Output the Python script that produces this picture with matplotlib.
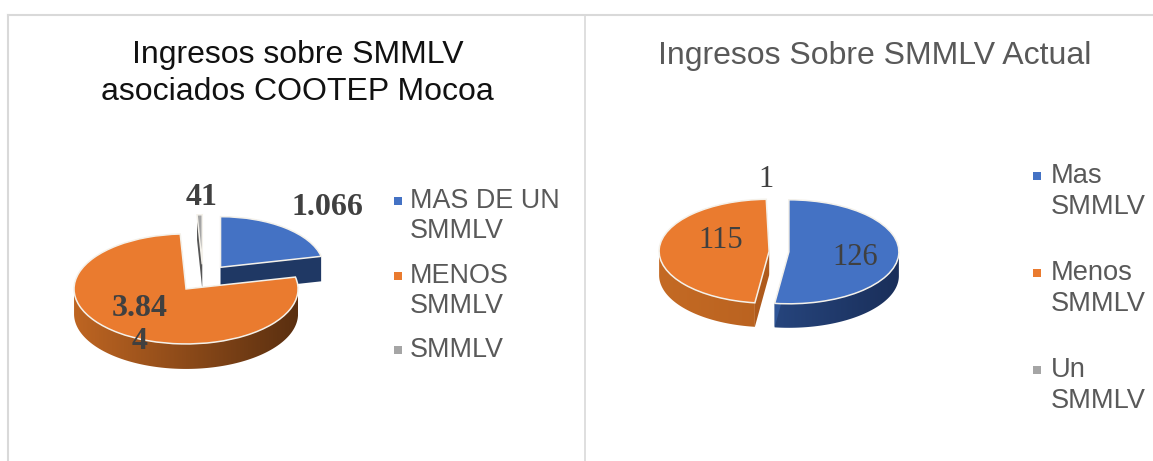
import matplotlib
matplotlib.use('Agg')
import matplotlib.pyplot as plt
import numpy as np
from matplotlib.colors import LinearSegmentedColormap
from matplotlib.patches import Polygon

W, H = 1153, 461

left_values = [1066, 3844, 41]
left_labels = ['1.066', '3.84\n4', '41']
left_legend = ['MAS DE UN\nSMMLV', 'MENOS\nSMMLV', 'SMMLV']
right_values = [126, 115, 1]
right_labels = ['126', '115', '1']
right_legend = ['Mas\nSMMLV', 'Menos\nSMMLV', 'Un\nSMMLV']

colors = ['#4472C4', '#EA7B2F', '#A5A5A5']
left_sides = [['#1F3864', '#1F3864'], ['#BE6522', '#5A2F10'], ['#555555', '#555555']]
right_sides = [['#2F5597', '#1A2F5A'], ['#C46A24', '#AE5A1C'], ['#FFFFFF', '#FFFFFF']]

fig = plt.figure(figsize=(W / 100, H / 100), dpi=100)
fig.patch.set_facecolor('white')


def draw_pie(cx, cy, rx, ry, depth, values, side_colors, explode, order, scales):
    # squashed axes turn the round pie into an ellipse
    ax = fig.add_axes([(cx - 1.5 * rx) / W, 1 - (cy + 1.8 * ry) / H, 3 * rx / W, 3.6 * ry / H])
    wedges, _ = ax.pie(values, colors=colors, startangle=90, counterclock=False,
                       explode=[explode] * len(values),
                       wedgeprops={'edgecolor': '#F4F1EA', 'linewidth': 1.1})
    ax.set_aspect('auto')
    d = depth / ry
    for z, i in enumerate(order):
        w = wedges[i]
        w.set_zorder(3 * z + 3)
        # back slices look smaller in the perspective of the original
        w.set_radius(w.r * scales[i])
        x0, y0 = w.center
        t = np.radians(np.linspace(w.theta1, w.theta2, 200))
        px = x0 + w.r * np.cos(t)
        py = y0 + w.r * np.sin(t)
        cmap = LinearSegmentedColormap.from_list('s', side_colors[i])
        grad = np.linspace(0, 1, 256).reshape(1, -1)
        low = np.sin(t) <= 0
        if low.any():
            # outer wall, shaded left to right
            poly = np.vstack([np.c_[px[low], py[low]], np.c_[px[low][::-1], py[low][::-1] - d]])
            clip = Polygon(poly, transform=ax.transData, fc='none', ec='none')
            ax.add_patch(clip)
            im = ax.imshow(grad, extent=[x0 - 1, x0 + 1, y0 - 1 - d, y0 + 1], cmap=cmap,
                           aspect='auto', zorder=3 * z + 1)
            im.set_clip_path(clip)
        # cut faces
        for k, px1, py1 in [(0, px[0], py[0]), (1, px[-1], py[-1])]:
            face = [(x0, y0), (px1, py1), (px1, py1 - d), (x0, y0 - d)]
            ax.add_patch(Polygon(face, fc=side_colors[i][k], ec='none', zorder=3 * z + 2))
    ax.set_xlim(-1.5, 1.5)
    ax.set_ylim(-1.8, 1.8)
    ax.axis('off')
    ax.patch.set_alpha(0)
    return wedges


draw_pie(203, 278, 112, 55, 25, left_values, left_sides, 0.25, [2, 0, 1], [0.92, 1, 0.9])
right_wedges = draw_pie(779, 251.5, 110, 52, 24, right_values, right_sides, 0.09, [2, 1, 0], [1, 1, 1])
# the single-person slice is lost in the gap in the original
right_wedges[2].set_facecolor('white')
right_wedges[2].set_edgecolor('white')
right_wedges[2].set_linewidth(2.5)

# overlay in pixel coordinates for frame, titles, labels and legends
top = fig.add_axes([0, 0, 1, 1], zorder=10)
top.set_xlim(0, W)
top.set_ylim(H, 0)
top.axis('off')
top.patch.set_alpha(0)

frame = '#D9D9D9'
top.plot([8, 8], [H, 15], color=frame, lw=1.5)
top.plot([8, W], [15, 15], color=frame, lw=1.5)
top.plot([584.5, 584.5], [15, H], color=frame, lw=1.2)

sans = 'Liberation Sans'
serif = 'Liberation Serif'
top.text(297.5, 55, 'Ingresos sobre SMMLV', ha='center', va='center', family=sans, fontsize=23, color='#111111')
top.text(297.5, 92, 'asociados COOTEP Mocoa', ha='center', va='center', family=sans, fontsize=23, color='#111111')
top.text(875, 56, 'Ingresos Sobre SMMLV Actual', ha='center', va='center', family=sans, fontsize=23, color='#595959')

lab = '#404040'
for s, x, y in zip(left_labels, [327, 140, 202], [207, 325, 197]):
    top.text(x, y, s, ha='center', va='center', family=serif, fontweight='bold', fontsize=23,
             color=lab, linespacing=1.15)
for s, x, y in zip(right_labels, [855.5, 720.5, 766], [257, 240, 179]):
    top.text(x, y, s, ha='center', va='center', family=serif, fontsize=22, color=lab)

for s, c, y in zip(left_legend, colors, [201, 276, 350]):
    top.scatter([398], [y], marker='s', s=32, color=c, linewidths=0)
    for n, line in enumerate(s.split('\n')):
        top.text(410, y + n * 30, line, va='center', family=sans, fontsize=19.4, color='#595959')
for s, c, y in zip(right_legend, colors, [176, 273, 370]):
    top.scatter([1037], [y], marker='s', s=32, color=c, linewidths=0)
    for n, line in enumerate(s.split('\n')):
        top.text(1051, y + n * 31, line, va='center', family=sans, fontsize=19.6, color='#595959')

fig.savefig('out.png', dpi=100)
